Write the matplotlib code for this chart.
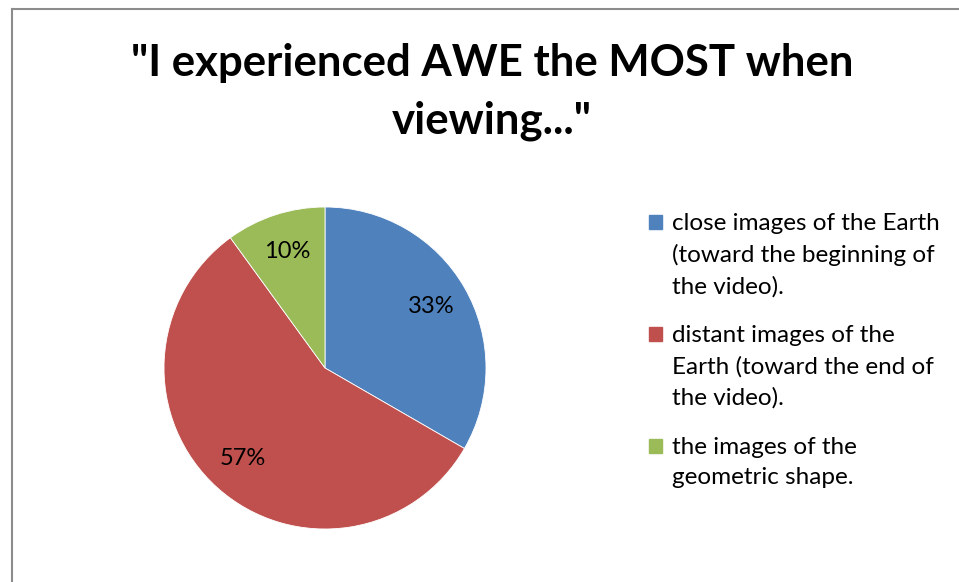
import matplotlib.pyplot as plt
from matplotlib.lines import Line2D
from matplotlib.patches import Rectangle

# survey answers (number of respondents)
categories = [
    "close images of the Earth\n(toward the beginning of\nthe video).",
    "distant images of the\nEarth (toward the end of\nthe video).",
    "the images of the\ngeometric shape.",
]
counts = [10, 17, 3]
colors = ["#4f81bd", "#c0504d", "#9bbb59"]
title = '"I experienced AWE the MOST when\nviewing..."'

plt.rcParams["font.family"] = ["Lato", "DejaVu Sans"]

W, H = 959, 582
fig = plt.figure(figsize=(W / 100, H / 100), dpi=100)

# chart border (left and top edge only)
fig.add_artist(Line2D([11.5 / W, 11.5 / W], [0, 1 - 8.5 / H], transform=fig.transFigure,
                      color="#8c8c8c", lw=1.5))
fig.add_artist(Line2D([11.5 / W, 1], [1 - 8.5 / H, 1 - 8.5 / H], transform=fig.transFigure,
                      color="#8c8c8c", lw=1.5))

fig.text(492 / W, 1 - 92 / H, title, ha="center", va="center", fontsize=31.5,
         fontweight="bold", linespacing=1.52)

cx, cy, r = 325, 368, 161
ax = fig.add_axes([(cx - r) / W, (H - cy - r) / H, 2 * r / W, 2 * r / H])
wedges, texts, autotexts = ax.pie(counts, colors=colors, startangle=90, counterclock=False,
                                  autopct="%1.0f%%", pctdistance=0.76,
                                  wedgeprops=dict(linewidth=0.6, edgecolor="white"),
                                  textprops=dict(fontsize=17, color="black"))
ax.set_xlim(-1, 1)
ax.set_ylim(-1, 1)

# legend: square beside the first line of each wrapped label
top = 222
for label, c in zip(categories, colors):
    fig.add_artist(Rectangle((649 / W, 1 - (top + 7) / H), 13 / W, 14 / H,
                             transform=fig.transFigure, color=c))
    fig.text(672 / W, 1 - (top - 9) / H, label, ha="left", va="top", fontsize=17.5,
             linespacing=1.55)
    top += 112

fig.savefig("out.png", dpi=100)
